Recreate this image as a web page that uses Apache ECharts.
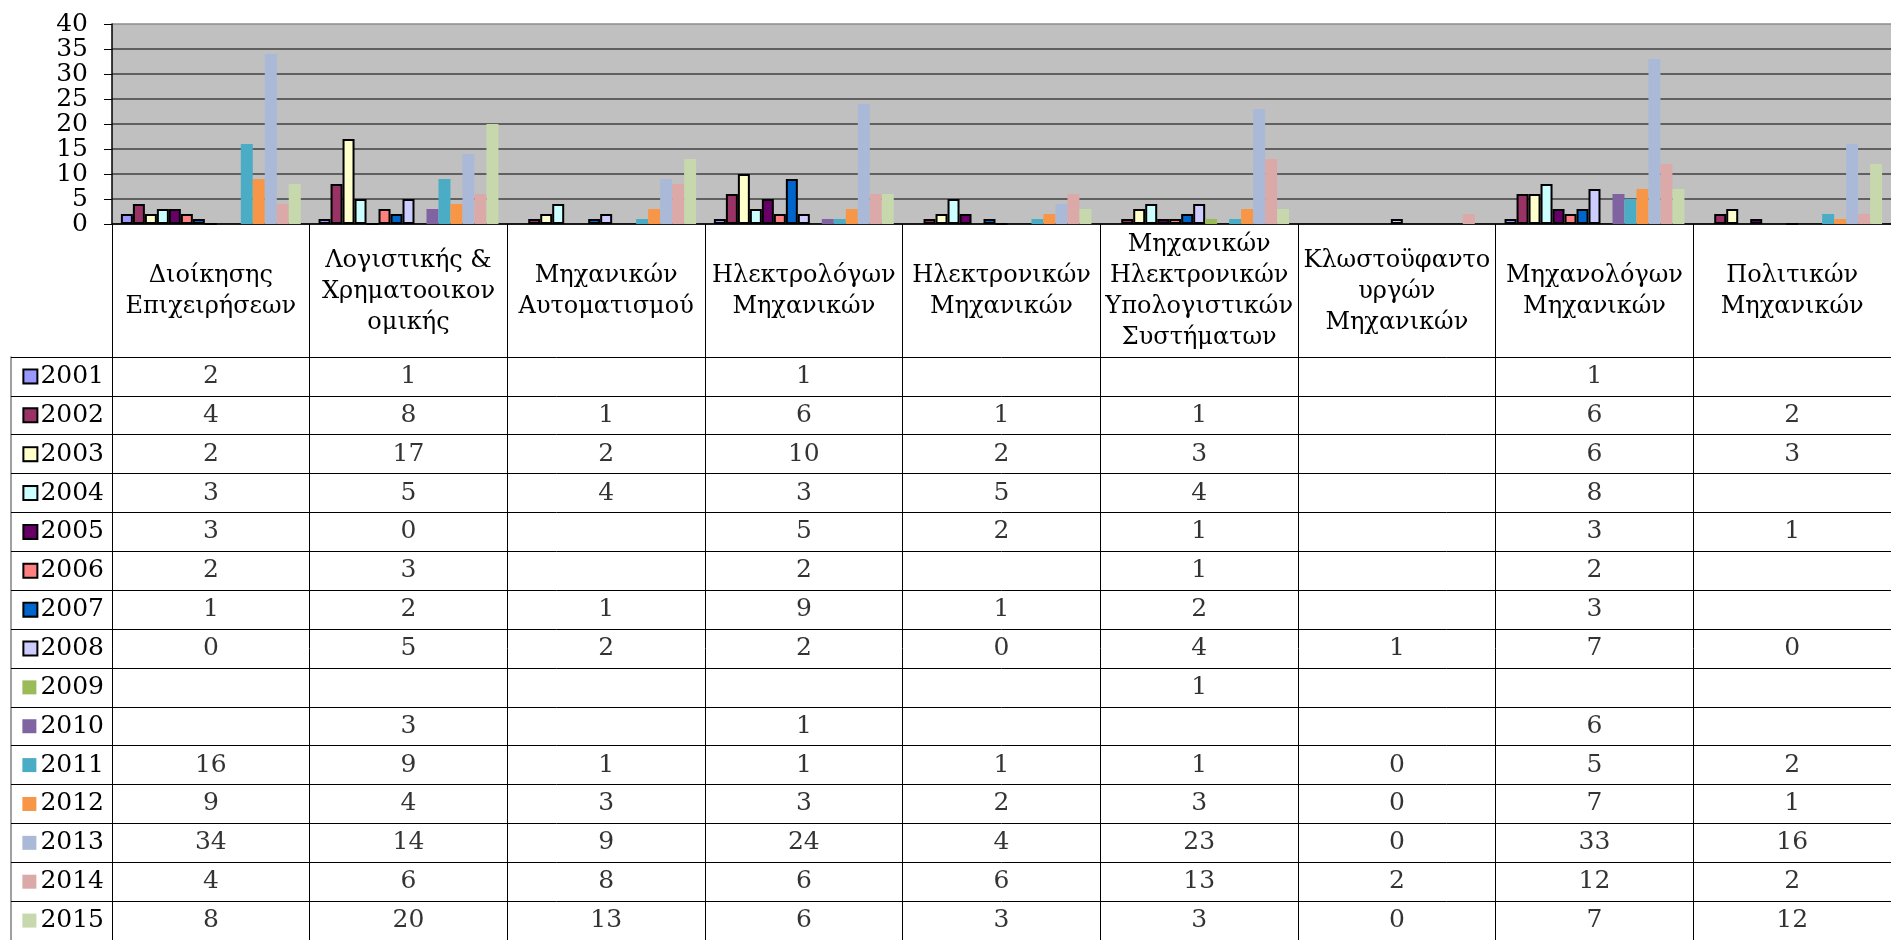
<!DOCTYPE html>
<html>
<head>
<meta charset="utf-8">
<script src="https://cdn.jsdelivr.net/npm/echarts@6/dist/echarts.min.js"></script>
<style>
  html, body { margin: 0; padding: 0; background: #fff; }
  #chart { width: 1891px; height: 940px; }
</style>
</head>
<body>
<div id="chart"></div>
<script>
// Categories (header text, with the line breaks as printed)
const categories = [
    'Διοίκησης\nΕπιχειρήσεων',
    'Λογιστικής &\nΧρηματοοικον\nομικής',
    'Μηχανικών\nΑυτοματισμού',
    'Ηλεκτρολόγων\nΜηχανικών',
    'Ηλεκτρονικών\nΜηχανικών',
    'Μηχανικών\nΗλεκτρονικών\nΥπολογιστικών\nΣυστήματων',
    'Κλωστοϋφαντο\nυργών\nΜηχανικών',
    'Μηχανολόγων\nΜηχανικών',
    'Πολιτικών\nΜηχανικών'
];

const years = ['2001', '2002', '2003', '2004', '2005', '2006', '2007', '2008',
    '2009', '2010', '2011', '2012', '2013', '2014', '2015'];

// one row of the table per year (null = empty cell)
const y2001 = [2, 1, null, 1, null, null, null, 1, null];
const y2002 = [4, 8, 1, 6, 1, 1, null, 6, 2];
const y2003 = [2, 17, 2, 10, 2, 3, null, 6, 3];
const y2004 = [3, 5, 4, 3, 5, 4, null, 8, null];
const y2005 = [3, 0, null, 5, 2, 1, null, 3, 1];
const y2006 = [2, 3, null, 2, null, 1, null, 2, null];
const y2007 = [1, 2, 1, 9, 1, 2, null, 3, null];
const y2008 = [0, 5, 2, 2, 0, 4, 1, 7, 0];
const y2009 = [null, null, null, null, null, 1, null, null, null];
const y2010 = [null, 3, null, 1, null, null, null, 6, null];
const y2011 = [16, 9, 1, 1, 1, 1, 0, 5, 2];
const y2012 = [9, 4, 3, 3, 2, 3, 0, 7, 1];
const y2013 = [34, 14, 9, 24, 4, 23, 0, 33, 16];
const y2014 = [4, 6, 8, 6, 6, 13, 2, 12, 2];
const y2015 = [8, 20, 13, 6, 3, 3, 0, 7, 12];

const rows = [y2001, y2002, y2003, y2004, y2005, y2006, y2007, y2008,
    y2009, y2010, y2011, y2012, y2013, y2014, y2015];

const colors = ['#9999FF', '#993366', '#FFFFCC', '#CCFFFF', '#660066', '#FF8080',
    '#0066CC', '#CCCCFF', '#9BBB59', '#8064A2', '#4BACC6', '#F79646',
    '#AAB9D7', '#DAA9A8', '#C7D8AD'];

const FONT = 'DejaVu Serif';
const bordered = i => i < 8; // older series drawn with black outline

// bar series for the chart
const barSeries = years.map((yr, i) => ({
    name: yr,
    type: 'bar',
    xAxisIndex: 0,
    yAxisIndex: 0,
    barGap: '0%',
    barCategoryGap: '9%',
    data: rows[i],
    itemStyle: {
        color: colors[i],
        borderColor: '#000',
        borderWidth: bordered(i) ? 2 : 0
    }
}));

// table cells: [column, row, value]
const cells = [];
rows.forEach((row, r) => {
    row.forEach((v, c) => {
        if (v !== null) cells.push([c, r, v]);
    });
});

// legend keys in the row headers
const rich = { t: { fontSize: 25, fontFamily: FONT, color: '#000', padding: [0, 0, 0, 4] } };
years.forEach((yr, i) => {
    rich['k' + i] = bordered(i)
        ? { width: 12, height: 12, backgroundColor: colors[i], borderColor: '#000', borderWidth: 2 }
        : { width: 14, height: 14, backgroundColor: colors[i] };
});

const chart = echarts.init(document.getElementById('chart'));
chart.setOption({
    animation: false,
    grid: [
        { left: 112, top: 24, width: 1785, height: 200, show: true, backgroundColor: '#c0c0c0', borderWidth: 0 },
        { left: 112, top: 357, width: 1785, height: 586.5 }
    ],
    xAxis: [
        {
            type: 'category',
            gridIndex: 0,
            data: categories,
            axisLine: { lineStyle: { color: '#000', width: 1.5 } },
            axisTick: { show: true, interval: 0, length: 133, lineStyle: { color: '#000', width: 1 } },
            axisLabel: {
                interval: 0,
                margin: 67.5,
                verticalAlign: 'middle',
                fontSize: 24,
                lineHeight: 31,
                fontFamily: FONT,
                color: '#000',
                align: 'center'
            },
            splitLine: { show: false }
        },
        {
            type: 'category',
            gridIndex: 1,
            data: categories,
            position: 'top',
            axisLine: { lineStyle: { color: '#000', width: 1 } },
            axisTick: { show: false },
            axisLabel: { show: false },
            splitLine: { show: true, interval: 0, lineStyle: { color: '#000', width: 1 } }
        }
    ],
    yAxis: [
        {
            type: 'value',
            gridIndex: 0,
            min: 0,
            max: 40,
            interval: 5,
            axisLine: { show: true, lineStyle: { color: '#000', width: 1.5 } },
            axisTick: { show: true, length: 8, lineStyle: { color: '#000' } },
            axisLabel: { fontSize: 25, fontFamily: FONT, color: '#000', margin: 24 },
            splitLine: {
                show: true,
                lineStyle: {
                    color: ['#404040', '#404040', '#404040', '#404040', '#404040',
                        '#404040', '#404040', '#404040', '#8c8c8c'],
                    width: 1.5
                }
            }
        },
        {
            type: 'category',
            gridIndex: 1,
            data: years,
            inverse: true,
            axisLine: { show: true, lineStyle: { color: '#000', width: 1 } },
            axisTick: { show: true, interval: 0, length: 101, lineStyle: { color: '#000', width: 1 } },
            axisLabel: {
                interval: 0,
                margin: 8,
                formatter: (val, idx) => '{k' + idx + '|}{t|' + val + '}',
                rich: rich
            },
            splitLine: { show: true, interval: 0, lineStyle: { color: '#000', width: 1 } }
        },
        {
            type: 'value',
            gridIndex: 1,
            position: 'left',
            offset: 101,
            axisLine: { show: true, lineStyle: { color: '#808080', width: 1.5 } },
            axisTick: { show: false },
            axisLabel: { show: false },
            splitLine: { show: false }
        }
    ],
    series: barSeries.concat([{
        type: 'scatter',
        xAxisIndex: 1,
        yAxisIndex: 1,
        symbolSize: 0,
        data: cells,
        label: {
            show: true,
            position: 'inside',
            formatter: p => String(p.value[2]),
            fontSize: 25,
            fontFamily: FONT,
            color: '#000'
        }
    }])
});
</script>
</body>
</html>
